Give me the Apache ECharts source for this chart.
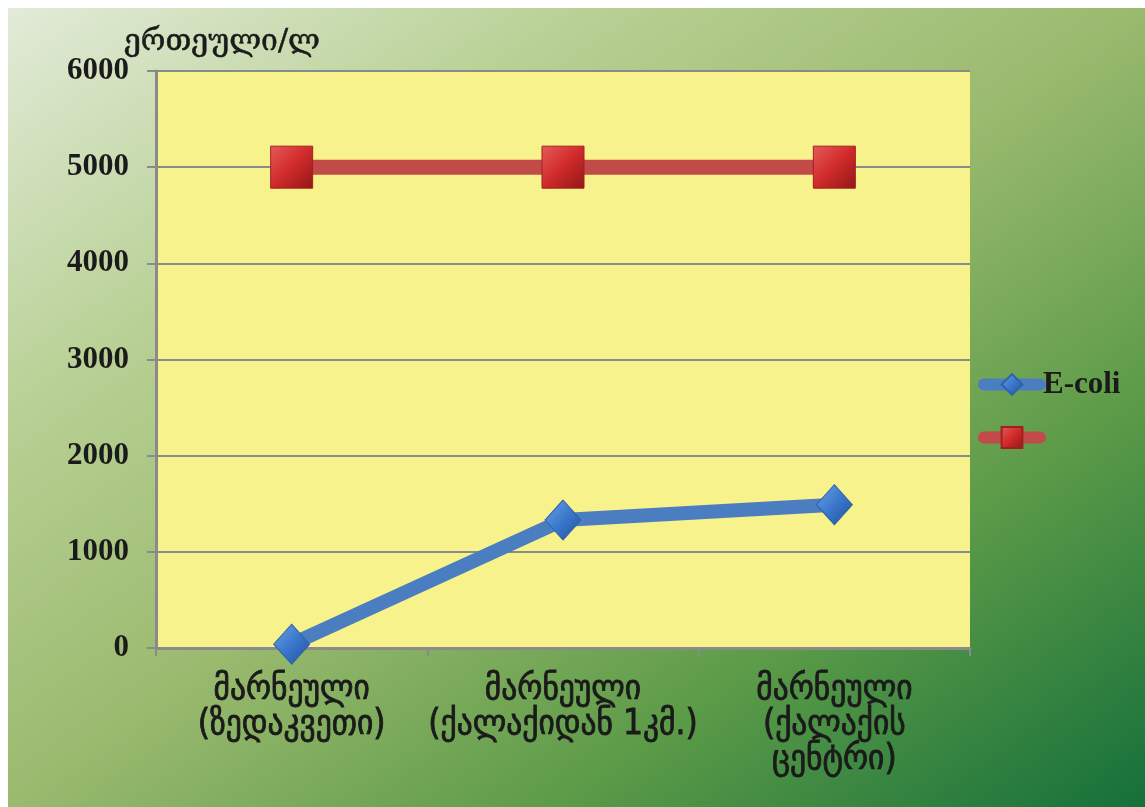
<!DOCTYPE html>
<html><head><meta charset="utf-8">
<script src="https://cdn.jsdelivr.net/npm/echarts@6/dist/echarts.min.js"></script>
<style>html,body{margin:0;padding:0;background:#fff;}#c{position:absolute;left:8px;top:8px;width:1137px;height:799px;}</style>
</head><body><div id="c"></div>
<script>
const categories = ['მარნეული\n(ზედაკვეთი)', 'მარნეული\n(ქალაქიდან 1კმ.)', 'მარნეული\n(ქალაქის\nცენტრი)'];
const eColiValues = [40, 1330, 1490];
const limitValues = [5000, 5000, 5000];
const yTicks = [0, 1000, 2000, 3000, 4000, 5000, 6000];
const seriesNames = ['E-coli', ' '];
const yTitle = 'ერთეული/ლ';

const chart = echarts.init(document.getElementById('c'));
const grayAxis = '#8a8a8a';
chart.setOption({
  animation: false,
  backgroundColor: new echarts.graphic.LinearGradient(0, 0, 752, 1070, [
    {offset: 0, color: '#e2ebd8'},
    {offset: 0.26, color: '#b8d094'},
    {offset: 0.5, color: '#9aba6e'},
    {offset: 0.74, color: '#5c9b48'},
    {offset: 1, color: '#15703a'}
  ], true),
  title: {
    text: yTitle, left: 111, top: 14,
    textStyle: {fontFamily: 'DejaVu Serif', fontSize: 30, fontWeight: 'normal', color: '#1a1a1a',
      textBorderColor: '#1a1a1a', textBorderWidth: 0.5}
  },
  legend: {
    orient: 'vertical', left: 965, top: 356, itemWidth: 56, itemHeight: 26, itemGap: 22,
    data: seriesNames,
    lineStyle: {width: 12, cap: 'round'},
    textStyle: {fontFamily: 'Liberation Serif', fontWeight: 'bold', fontSize: 31, color: '#1a1a1a', padding: [0,0,0,-2]}
  },
  grid: {left: 148, top: 63, right: 175, bottom: 159, show: true, backgroundColor: '#f8f28c', borderWidth: 0},
  xAxis: {
    type: 'category', data: categories, boundaryGap: true,
    axisLine: {lineStyle: {color: grayAxis, width: 3}},
    axisTick: {show: true, length: 8, lineStyle: {color: grayAxis, width: 2}},
    axisLabel: {fontFamily: 'DejaVu Sans Condensed', fontWeight: 'normal', fontSize: 35, color: '#1a1a1a',
      textBorderColor: '#1a1a1a', textBorderWidth: 0.8,
      lineHeight: 35, margin: 24, interval: 0}
  },
  yAxis: {
    type: 'value', min: 0, max: 6000, interval: 1000,
    axisLine: {show: true, lineStyle: {color: grayAxis, width: 3}},
    axisTick: {show: true, length: 9, lineStyle: {color: grayAxis, width: 2}},
    splitLine: {lineStyle: {color: grayAxis, width: 2}},
    axisLabel: {fontFamily: 'Liberation Serif', fontWeight: 'bold', fontSize: 31, color: '#1a1a1a', margin: 27,
      formatter: v => yTicks.includes(v) ? String(v) : ''}
  },
  series: [
    {
      name: seriesNames[0], type: 'line', data: eColiValues,
      symbol: 'diamond', symbolSize: [36, 40],
      lineStyle: {color: '#4a7ec0', width: 14},
      itemStyle: {color: new echarts.graphic.LinearGradient(0, 0, 1, 1, [
        {offset: 0, color: '#6fa3e4'}, {offset: 0.5, color: '#3a78cc'}, {offset: 1, color: '#22509a'}]),
        borderColor: '#2f62a8', borderWidth: 1},
      z: 3
    },
    {
      name: seriesNames[1], type: 'line', data: limitValues,
      symbol: 'rect', symbolSize: 42,
      lineStyle: {color: '#c24a48', width: 15},
      itemStyle: {color: new echarts.graphic.LinearGradient(0, 0, 1, 1, [
        {offset: 0, color: '#e85a5a'}, {offset: 0.5, color: '#d02a2a'}, {offset: 1, color: '#901818'}]),
        borderColor: '#a02020', borderWidth: 1},
      z: 2
    }
  ]
});
</script></body></html>
